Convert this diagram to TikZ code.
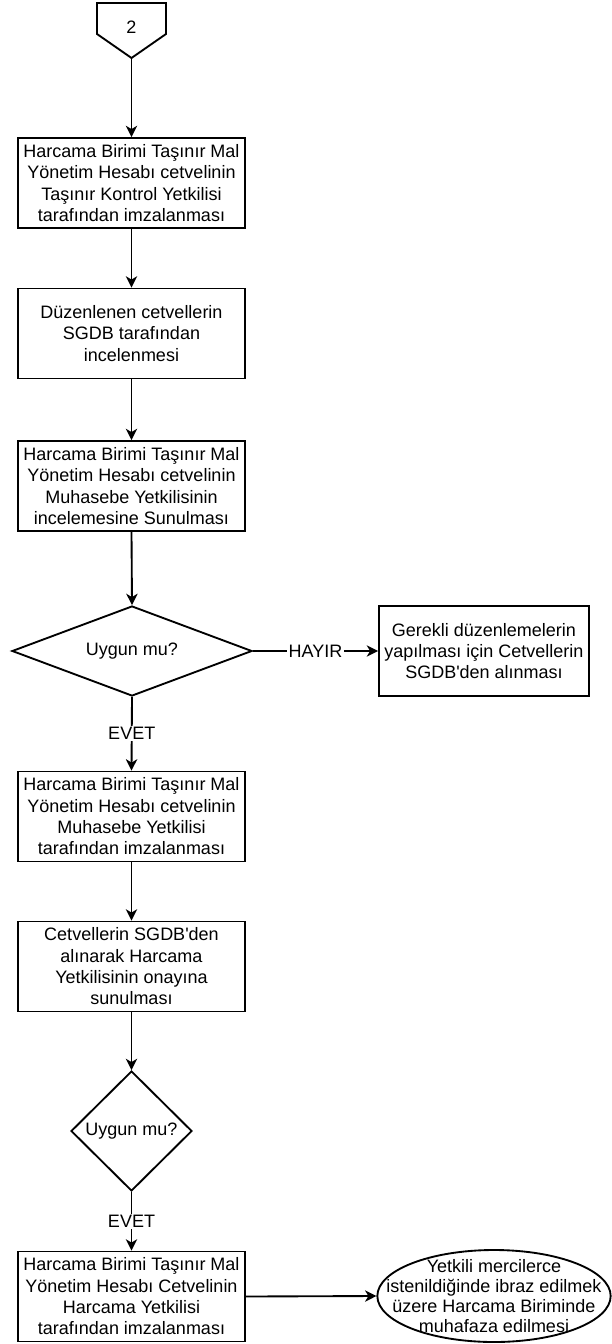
\documentclass[tikz,border=0pt]{standalone}
\usepackage{fontspec}
\setmainfont{Liberation Sans}
\usetikzlibrary{shapes.geometric,arrows.meta}

\tikzset{
  blok/.style={draw, line width=1.4pt, align=center, inner sep=0pt,
    minimum width=170.25pt, minimum height=67.5pt},
  karar/.style={draw, diamond, line width=1.4pt, align=center, inner sep=0pt},
  ok/.style={line width=1.4pt, -{Stealth[length=8.5pt,width=8.5pt,inset=2.5pt]}},
  etiket/.style={fill=white, inner sep=1pt},
}

\begin{document}
\begin{tikzpicture}[x=0.75pt, y=-0.75pt,
  every node/.style={font=\fontsize{13.5pt}{16pt}\selectfont}]
\useasboundingbox (0,0) rectangle (611,1344);

% sayfa baglantisi
\draw[line width=1.4pt] (97,3) -- (166,3) -- (166,34) -- (131.5,58) -- (97,34) -- cycle;
\node (sayfa) at (131.5,27) {2};
\coordinate (uc) at (131.5,58);

\node[blok] (kutu1) at (131.5,183) {Harcama Birimi Taşınır Mal\\Yönetim Hesabı cetvelinin\\Taşınır Kontrol Yetkilisi\\tarafından imzalanması};
\node[blok] (kutu2) at (131.5,333.5) {Düzenlenen cetvellerin\\SGDB tarafından\\incelenmesi};
\node[blok] (kutu3) at (131.5,486) {Harcama Birimi Taşınır Mal\\Yönetim Hesabı cetvelinin\\Muhasebe Yetkilisinin\\incelemesine Sunulması};
\node[karar, aspect=2.67, minimum width=180pt, minimum height=67.5pt] (karar1) at (132,651) {Uygun mu?};
\node[blok, minimum width=157.5pt] (duzelt) at (484,651) {Gerekli düzenlemelerin\\yapılması için Cetvellerin\\SGDB\textquotesingle den alınması};
\node[blok] (kutu4) at (131.5,816.5) {Harcama Birimi Taşınır Mal\\Yönetim Hesabı cetvelinin\\Muhasebe Yetkilisi\\tarafından imzalanması};
\node[blok] (kutu5) at (131.5,966.5) {Cetvellerin SGDB\textquotesingle den\\alınarak Harcama\\Yetkilisinin onayına\\sunulması};
\node[karar, minimum width=90.75pt, minimum height=90pt] (karar2) at (131.5,1131) {Uygun mu?};
\node[blok] (kutu6) at (131.5,1296.5) {Harcama Birimi Taşınır Mal\\Yönetim Hesabı Cetvelinin\\Harcama Yetkilisi\\tarafından imzalanması};
\node[draw, ellipse, line width=1.4pt, align=center, inner xsep=-20pt, inner ysep=-10pt,
  minimum width=175pt, minimum height=69pt,
  font=\fontsize{13.5pt}{15pt}\selectfont] (sakla) at (494,1296)
  {Yetkili mercilerce\\istenildiğinde ibraz edilmek\\üzere Harcama Biriminde\\muhafaza edilmesi};

\draw[ok] (uc) -- (kutu1.north);
\draw[ok] (kutu1.south) -- (kutu2.north);
\draw[ok] (kutu2.south) -- (kutu3.north);
\draw[ok] (kutu3.south) -- (karar1.north);
\draw[ok] (karar1.east) -- node[etiket] {HAYIR} (duzelt.west);
\draw[ok] (karar1.south) -- node[etiket] {EVET} (kutu4.north);
\draw[ok] (kutu4.south) -- (kutu5.north);
\draw[ok] (kutu5.south) -- (karar2.north);
\draw[ok] (karar2.south) -- node[etiket] {EVET} (kutu6.north);
\draw[ok] (kutu6.east) -- (sakla.west);

\end{tikzpicture}
\end{document}
